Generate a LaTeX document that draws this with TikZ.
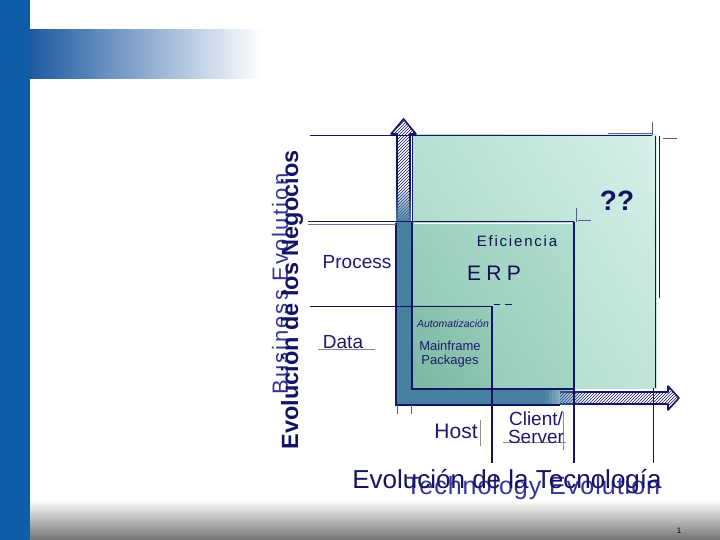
\documentclass[tikz,border=0pt]{standalone}
\usepackage{fontspec}
\setmainfont{Liberation Sans}
\usetikzlibrary{patterns,shadings}
\definecolor{navy}{RGB}{20,20,100}
\definecolor{hand}{RGB}{30,25,110}
\definecolor{handlight}{RGB}{55,50,150}
\definecolor{steel}{RGB}{72,128,160}
\definecolor{sidebar}{RGB}{16,94,168}
\definecolor{bandc}{RGB}{30,90,160}
\definecolor{bigA}{RGB}{214,240,234}
\definecolor{bigB}{RGB}{160,212,194}
\definecolor{medA}{RGB}{178,222,208}
\definecolor{medB}{RGB}{140,198,178}
\definecolor{smA}{RGB}{150,204,184}
\definecolor{smB}{RGB}{122,184,162}
\tikzset{
  hatcharrow/.style={fill=white, postaction={pattern=north east lines, pattern color=navy}, draw=navy, line width=1.6pt, line join=round},
  guide/.style={draw=navy, line width=1pt},
  thin guide/.style={draw=navy!70, line width=0.6pt},
  lab/.style={text=hand, inner sep=0pt},
}
\begin{document}
\begin{tikzpicture}[x=1pt,y=-1pt]
\useasboundingbox (0,0) rectangle (720,540);
% slide decoration
\fill[sidebar] (0,0) rectangle (30,540);
\shade[left color=bandc, right color=white] (30,30) rectangle (262,79);
\shade[top color=white, bottom color=black!55] (30,500) rectangle (720,540);
\node[inner sep=0pt, font=\fontsize{8}{9}\selectfont] (pg) at (679,531) {1};

% big square
\shade[upper right=bigA, lower left=bigB, upper left=bigB!60!bigA, lower right=bigA!60!bigB] (412,135) rectangle (657,388);
% medium square
\shade[upper right=medA, lower left=medB, upper left=medB!60!medA, lower right=medA!60!medB] (412,222) rectangle (574,388);
\draw[white, line width=1pt] (414,224) -- (572,224);
% small square
\shade[upper right=smA, lower left=smB, upper left=smB!60!smA, lower right=smA!60!smB] (412,305) rectangle (492,388);
\draw[white, line width=1pt] (414,306.5) -- (490,306.5);

% arrows (hatched)
\path[hatcharrow] (397,226) -- (397,134) -- (391,134) -- (403.5,119) -- (416,134) -- (410,134) -- (410,226);
\path[hatcharrow] (560,392) -- (668,392) -- (668,386) -- (679,398) -- (668,410) -- (668,404) -- (560,404);
% steel L band
\fill[steel] (396,223) -- (411,223) -- (411,390) -- (545,390) -- (545,405) -- (396,405) -- cycle;
\foreach \i in {0,...,11}{
  \fill[steel, opacity={1-(\i+0.5)/12}] ({545+3.5*\i},390) rectangle ({545+3.5*(\i+1)},405);
  \fill[steel, opacity={1-(\i+0.5)/12}] (396,{223-3*\i}) rectangle (411,{223-3*(\i+1)});
}
\draw[navy, line width=1.2pt] (396,223) -- (396,405) -- (560,405);

% square borders
\draw[guide] (310,136) -- (652,136);
\draw[navy, line width=1pt] (412,136) -- (412,222);
\draw[navy, line width=1pt] (655,136) -- (655,388);
\draw[navy, line width=0.7pt] (659,136) -- (659,298);
\draw[navy, line width=2.2pt] (412,222) -- (412,389) -- (574,389);
\draw[guide] (308,222) -- (574,222);
\draw[navy!60, line width=0.6pt] (308,224.5) -- (396,224.5);
\draw[navy, line width=2pt] (574,222) -- (574,463);
\draw[guide] (310,306) -- (492,306);
\draw[navy, line width=1.6pt] (492,306) -- (492,463);
\draw[navy, line width=1pt] (653,388) -- (653,463);

% crosshair marks
\draw[thin guide] (652,122) -- (652,135);
\draw[thin guide] (608,133) -- (652,133);
\draw[thin guide] (663,138) -- (677,138);
\draw[thin guide] (576,208) -- (576,222);
\draw[thin guide] (578,220) -- (591,220);
\draw[navy, line width=1pt] (494,304) -- (500,304);
\draw[navy, line width=0.8pt] (505,304) -- (512,304);
\draw[thin guide] (397,405) -- (397,414);
\draw[thin guide] (411,405) -- (411,414);
\draw[black!45, line width=0.6pt] (318,349) -- (375,349);
\draw[black!45, line width=0.6pt] (480,420) -- (480,446);
\draw[black!45, line width=0.6pt] (503,442) -- (566,442);
\draw[black!45, line width=0.6pt] (563,412) -- (563,450);

% labels
\node[text=navy, font=\bfseries\fontsize{28}{30}\selectfont, inner sep=0pt] (qq) at (617,201) {??};
\node[lab, text=navy!80!black, font=\fontsize{15}{17}\addfontfeatures{LetterSpace=12}\selectfont] (efi) at (517,241) {Eficiencia};
\node[lab, text=navy!80!black, font=\fontsize{21}{23}\addfontfeatures{LetterSpace=25}\selectfont] (erp) at (494,273) {ERP};
\node[lab, font=\itshape\fontsize{10.5}{12}\selectfont] (auto) at (453,324) {Automatización};
\node[lab, font=\fontsize{13}{13.5}\selectfont, align=center] (mf) at (450,354) {Mainframe\\Packages};
\node[lab, font=\fontsize{19}{21}\selectfont] (proc) at (357,262) {Process};
\node[lab, font=\fontsize{19}{21}\selectfont] (data) at (343,342) {Data};
\node[lab, font=\fontsize{21}{23}\selectfont] (host) at (456,431) {Host};
\node[lab, font=\fontsize{19}{18}\selectfont, align=center] (cs) at (536,428) {Client/\\Server};
\node[lab, text=handlight, font=\fontsize{25}{27}\addfontfeatures{LetterSpace=4}\selectfont] (te) at (533,488) {Technology Evolution};
\node[lab, text=navy, font=\fontsize{26}{28}\selectfont] (et) at (507,482) {Evolución de la Tecnología};
\node[lab, text=handlight, font=\fontsize{22}{24}\addfontfeatures{LetterSpace=10}\selectfont, rotate=90] (be) at (280,284) {Business Evolution};
\node[lab, text=navy, font=\bfseries\fontsize{23.5}{25}\selectfont, rotate=90] (en) at (292,300) {Evolución de los Negocios};
\end{tikzpicture}
\end{document}
